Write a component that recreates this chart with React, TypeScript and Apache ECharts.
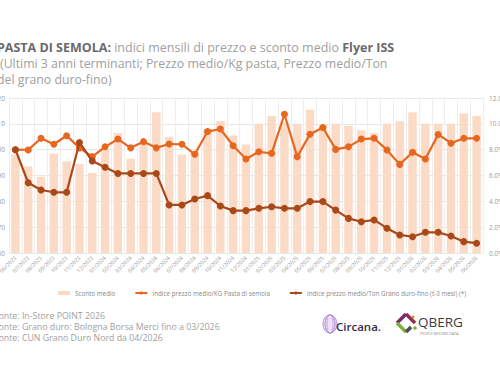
import React, { useEffect, useRef } from "react";
import * as echarts from "echarts";

const months = [
  "06/2023", "07/2023", "08/2023", "09/2023", "10/2023", "11/2023", "12/2023",
  "01/2024", "02/2024", "03/2024", "04/2024", "05/2024", "06/2024", "07/2024",
  "08/2024", "09/2024", "10/2024", "11/2024", "12/2024", "01/2025", "02/2025",
  "03/2025", "04/2025", "05/2025", "06/2025", "07/2025", "08/2025", "09/2025",
  "10/2025", "11/2025", "12/2025", "01/2026", "02/2026", "03/2026", "04/2026",
  "05/2026", "06/2026",
];

const scontoMedio = [
  7.6, 6.7, 5.9, 7.7, 7.1, 6.9, 6.2, 8.0, 9.3, 7.3, 8.4, 10.9, 9.0, 7.6, 7.9,
  9.6, 10.2, 9.1, 8.4, 10.0, 10.6, 10.1, 10.0, 11.1, 9.9, 10.0, 9.85, 9.5, 9.3,
  10.0, 10.2, 10.9, 10.0, 10.0, 10.0, 10.8, 10.6,
];

const indicePasta = [
  100, 99.9, 104.4, 102.1, 105.4, 100.7, 97.3, 101.1, 104.1, 100.7, 103.1,
  100.7, 102.2, 102.1, 98.2, 107.0, 108.0, 101.5, 96.4, 99.2, 98.6, 113.7,
  97.3, 106.0, 108.6, 100.1, 101.1, 104.1, 104.4, 99.9, 94.3, 99.0, 96.4,
  105.9, 102.5, 104.4, 104.4,
];

const indiceGrano = [
  100, 87.2, 84.4, 83.5, 83.5, 102.8, 95.6, 93.2, 90.8, 90.8, 90.8, 90.8,
  78.6, 78.6, 80.9, 82.2, 78.2, 76.4, 76.4, 77.3, 77.9, 77.3, 77.3, 79.9,
  79.9, 76.6, 73.4, 72.1, 72.8, 69.6, 67.0, 66.3, 68.0, 68.0, 66.6, 64.4, 63.8,
];

const seriesNames = [
  "Sconto medio",
  "Indice prezzo medio/KG Pasta di semola",
  "Indice prezzo medio/Ton Grano duro-fino (t-3 mesi) (*)",
];

const titleLines = [
  "PASTA DI SEMOLA:",
  " indici mensili di prezzo e sconto medio ",
  "Flyer ISS",
  "(Ultimi 3 anni terminanti; Prezzo medio/Kg pasta, Prezzo medio/Ton",
  "del grano duro-fino)",
];

const footerLines = [
  "Fonte: In-Store POINT 2026",
  "Fonte: Grano duro: Bologna Borsa Merci fino a 03/2026",
  "Fonte: CUN Grano Duro Nord da 04/2026",
];

const FONT = "'Open Sans', sans-serif";
const BAR = "#FBDAC6";
const PASTA = "#E8671F";
const GRANO = "#A9491A";
const GRAY = "#9a9a9a";

export default function App() {
  const ref = useRef<HTMLDivElement>(null);
  useEffect(() => {
    if (!ref.current) return;
    const chart = echarts.init(ref.current, null, { renderer: "svg" });
    chart.setOption({
      animation: false,
      backgroundColor: "#ffffff",
      textStyle: { fontFamily: FONT },
      grid: {
        left: 9,
        right: 17,
        top: 98,
        bottom: 130,
        containLabel: false,
        outerBoundsMode: "none",
      },
      legend: {
        left: 53,
        top: 285,
        itemGap: 19,
        itemWidth: 12,
        itemHeight: 4,
        textStyle: { fontSize: 6.3, color: "#8a8a8a", fontFamily: FONT },
        data: [
          { name: seriesNames[0], icon: "rect" },
          { name: seriesNames[1] },
          { name: seriesNames[2] },
        ],
      },
      xAxis: {
        type: "category",
        data: months,
        boundaryGap: true,
        axisLine: { show: false },
        axisTick: { show: false },
        splitLine: { show: true, lineStyle: { color: "#eeeeee", width: 1 } },
        axisLabel: {
          rotate: 45,
          fontSize: 5.5,
          color: GRAY,
          margin: 4,
          interval: 0,
        },
      },
      yAxis: [
        {
          type: "value",
          min: 60,
          max: 120,
          interval: 10,
          position: "left",
          axisLine: { show: false },
          axisTick: { show: false },
          splitLine: { show: true, lineStyle: { color: "#e8e8e8" } },
          axisLabel: { fontSize: 6.5, color: GRAY, margin: 4 },
        },
        {
          type: "value",
          min: 0,
          max: 12,
          interval: 2,
          position: "right",
          axisLine: { show: false },
          axisTick: { show: false },
          splitLine: { show: false },
          axisLabel: {
            fontSize: 6.5,
            color: GRAY,
            margin: 6,
            formatter: (v: number) => v.toFixed(1) + "%",
          },
        },
      ],
      series: [
        {
          name: seriesNames[0],
          type: "bar",
          yAxisIndex: 1,
          data: scontoMedio,
          barCategoryGap: "34%",
          itemStyle: { color: BAR },
          z: 1,
        },
        {
          name: seriesNames[1],
          type: "line",
          yAxisIndex: 0,
          data: indicePasta,
          symbol: "circle",
          symbolSize: 7,
          lineStyle: { color: PASTA, width: 2.2 },
          itemStyle: { color: PASTA },
          z: 3,
        },
        {
          name: seriesNames[2],
          type: "line",
          yAxisIndex: 0,
          data: indiceGrano,
          symbol: "circle",
          symbolSize: 7,
          lineStyle: { color: GRANO, width: 2.2 },
          itemStyle: { color: GRANO },
          z: 4,
        },
      ],
      graphic: [
        {
          type: "text",
          left: -3,
          top: 41,
          style: {
            text:
              "{b|" + titleLines[0] + "}{n|" + titleLines[1] + "}{b|" + titleLines[2] + "}",
            rich: {
              b: { fontSize: 12.5, lineHeight: 14, fontWeight: "bold", fill: "#6a6a6a", fontFamily: FONT },
              n: { fontSize: 12.5, lineHeight: 14, fill: "#a0a0a0", fontFamily: FONT },
            },
          },
        },
        {
          type: "text",
          left: 0,
          top: 56.5,
          style: { text: titleLines[3], fontSize: 12.3, lineHeight: 14, fill: "#a0a0a0", fontFamily: FONT },
        },
        {
          type: "text",
          left: -3,
          top: 72.5,
          style: { text: titleLines[4], fontSize: 12.3, lineHeight: 14, fill: "#a0a0a0", fontFamily: FONT },
        },
        ...footerLines.map((t, i) => ({
          type: "text",
          left: -6,
          top: 311 + i * 11,
          style: { text: t, fontSize: 8.8, lineHeight: 10, fill: "#a0a0a0", fontFamily: FONT },
        })),
        // Circana logo
        {
          type: "group",
          children: [
            { type: "ellipse", shape: { cx: 330, cy: 324, rx: 7, ry: 9 }, style: { fill: "none", stroke: "#b48fd0", lineWidth: 1 } },
            { type: "ellipse", shape: { cx: 330, cy: 324, rx: 5, ry: 9 }, style: { fill: "none", stroke: "#9f70c4", lineWidth: 1 } },
            { type: "ellipse", shape: { cx: 330, cy: 324, rx: 3, ry: 9 }, style: { fill: "none", stroke: "#c7a8e0", lineWidth: 1 } },
            { type: "ellipse", shape: { cx: 331, cy: 324, rx: 6, ry: 7 }, style: { fill: "rgba(200,170,225,0.35)", stroke: "none" } },
            {
              type: "text",
              x: 336,
              y: 326,
              style: { text: "Circana.", fontSize: 11.5, fontWeight: 600, fill: "#3b2b47", fontFamily: FONT, verticalAlign: "middle" },
            },
          ],
        },
        // QBERG logo
        {
          type: "group",
          children: [
            { type: "line", shape: { x1: 397, y1: 323, x2: 406, y2: 314 }, style: { stroke: "#7b2a6e", lineWidth: 3.5 } },
            { type: "line", shape: { x1: 406, y1: 314, x2: 415, y2: 323 }, style: { stroke: "#8e2e52", lineWidth: 3.5 } },
            { type: "line", shape: { x1: 397, y1: 323, x2: 406, y2: 332 }, style: { stroke: "#7fb03b", lineWidth: 3.5 } },
            { type: "line", shape: { x1: 406, y1: 332, x2: 411, y2: 327 }, style: { stroke: "#4f4f4f", lineWidth: 3.5 } },
            { type: "circle", shape: { cx: 415, cy: 328, r: 1.8 }, style: { fill: "#7fb03b" } },
            { type: "circle", shape: { cx: 413, cy: 317, r: 1.5 }, style: { fill: "#e0822a" } },
            {
              type: "text",
              x: 418,
              y: 322,
              style: { text: "QBERG", fontSize: 13.5, fontWeight: 500, fill: "#3a3a3a", fontFamily: FONT, verticalAlign: "middle" },
            },
            {
              type: "text",
              x: 420,
              y: 333,
              style: { text: "PEOPLE BEYOND DATA", fontSize: 3.6, fill: "#888", fontFamily: FONT, verticalAlign: "middle" },
            },
          ],
        },
      ],
    });
    return () => chart.dispose();
  }, []);
  return (
    <div
      ref={ref}
      style={{ position: "absolute", left: 0, top: 0, width: 500, height: 383, background: "#fff" }}
    />
  );
}
